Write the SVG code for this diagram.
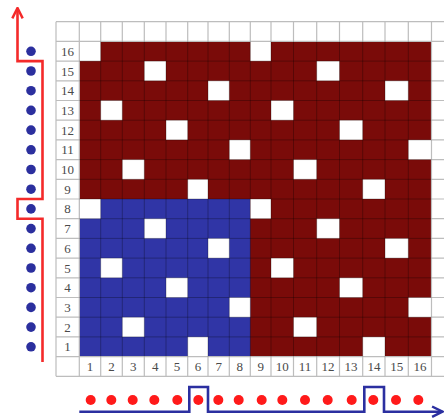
<svg xmlns="http://www.w3.org/2000/svg" width="444" height="418" viewBox="0 0 444 418">
<style>
.bg{fill:#ffffff}
.red{fill:#7a0b09}
.blue{fill:#3035a6}
.w{fill:#ffffff}
.gl{stroke:#bdbdbd;stroke-width:1.2;fill:none}
.dl{stroke:#000;stroke-opacity:0.28;stroke-width:1;fill:none}
.lbl{font-family:"Liberation Serif","Times New Roman",serif;font-size:13px;fill:#4a4a4a;text-anchor:middle}
.bdot{fill:#2b2f9e}
.rdot{fill:#ff1a1a}
.rline{fill:none;stroke:#f42a2a;stroke-width:2.6}
.bline{fill:none;stroke:#2b2fa0;stroke-width:2.6}
</style>
<defs>
<marker id="arrR" viewBox="0 0 10 10" refX="9" refY="5" markerWidth="13" markerHeight="13" markerUnits="userSpaceOnUse" orient="auto">
<path d="M1,1 L9,5 L1,9" fill="none" stroke="#f42a2a" stroke-width="1.9"/>
</marker>
<marker id="arrB" viewBox="0 0 10 10" refX="9" refY="5" markerWidth="13" markerHeight="13" markerUnits="userSpaceOnUse" orient="auto">
<path d="M1,1 L9,5 L1,9" fill="none" stroke="#2b2fa0" stroke-width="1.9"/>
</marker>
</defs>
<rect class="bg" x="0" y="0" width="444" height="418"/>

<g id="grid">
<rect class="red" x="79.3" y="41.4" width="352.2" height="315.2"/>
<rect class="blue" x="79.3" y="199" width="171" height="157.6"/>
<g id="white-cells">
<rect class="w" x="79.3" y="41.4" width="21.4" height="19.7"/>
<rect class="w" x="250.3" y="41.4" width="20.7" height="19.7"/>
<rect class="w" x="144.3" y="61.1" width="21.7" height="19.7"/>
<rect class="w" x="316.7" y="61.1" width="22.8" height="19.7"/>
<rect class="w" x="208" y="80.8" width="21.3" height="19.7"/>
<rect class="w" x="385" y="80.8" width="23.3" height="19.7"/>
<rect class="w" x="100.7" y="100.5" width="21.6" height="19.7"/>
<rect class="w" x="271" y="100.5" width="22.5" height="19.7"/>
<rect class="w" x="166" y="120.2" width="21.7" height="19.7"/>
<rect class="w" x="339.5" y="120.2" width="23.2" height="19.7"/>
<rect class="w" x="229.3" y="139.9" width="21" height="19.7"/>
<rect class="w" x="408.3" y="139.9" width="23.2" height="19.7"/>
<rect class="w" x="122.3" y="159.6" width="22" height="19.7"/>
<rect class="w" x="293.5" y="159.6" width="23.2" height="19.7"/>
<rect class="w" x="187.7" y="179.3" width="20.3" height="19.7"/>
<rect class="w" x="362.7" y="179.3" width="22.3" height="19.7"/>
<rect class="w" x="79.3" y="199" width="21.4" height="19.7"/>
<rect class="w" x="250.3" y="199" width="20.7" height="19.7"/>
<rect class="w" x="144.3" y="218.7" width="21.7" height="19.7"/>
<rect class="w" x="316.7" y="218.7" width="22.8" height="19.7"/>
<rect class="w" x="208" y="238.4" width="21.3" height="19.7"/>
<rect class="w" x="385" y="238.4" width="23.3" height="19.7"/>
<rect class="w" x="100.7" y="258.1" width="21.6" height="19.7"/>
<rect class="w" x="271" y="258.1" width="22.5" height="19.7"/>
<rect class="w" x="166" y="277.8" width="21.7" height="19.7"/>
<rect class="w" x="339.5" y="277.8" width="23.2" height="19.7"/>
<rect class="w" x="229.3" y="297.5" width="21" height="19.7"/>
<rect class="w" x="408.3" y="297.5" width="23.2" height="19.7"/>
<rect class="w" x="122.3" y="317.2" width="22" height="19.7"/>
<rect class="w" x="293.5" y="317.2" width="23.2" height="19.7"/>
<rect class="w" x="187.7" y="336.9" width="20.3" height="19.7"/>
<rect class="w" x="362.7" y="336.9" width="22.3" height="19.7"/>
</g>
<path class="gl" d="M56,21.7V376.3M79.3,21.7V41.4M100.7,21.7V41.4M122.3,21.7V41.4M144.3,21.7V41.4M166,21.7V41.4M187.7,21.7V41.4M208,21.7V41.4M229.3,21.7V41.4M250.3,21.7V41.4M271,21.7V41.4M293.5,21.7V41.4M316.7,21.7V41.4M339.5,21.7V41.4M362.7,21.7V41.4M385,21.7V41.4M408.3,21.7V41.4M431.5,21.7V376.3M79.3,356.6V376.3M100.7,356.6V376.3M122.3,356.6V376.3M144.3,356.6V376.3M166,356.6V376.3M187.7,356.6V376.3M208,356.6V376.3M229.3,356.6V376.3M250.3,356.6V376.3M271,356.6V376.3M293.5,356.6V376.3M316.7,356.6V376.3M339.5,356.6V376.3M362.7,356.6V376.3M385,356.6V376.3M408.3,356.6V376.3M79.3,41.4V356.6"/>
<path class="gl" d="M56,21.7H444M56,41.4H444M56,376.3H444M56,61.1H79.3M56,80.8H79.3M56,100.5H79.3M56,120.2H79.3M56,139.9H79.3M56,159.6H79.3M56,179.3H79.3M56,199H79.3M56,218.7H79.3M56,238.4H79.3M56,258.1H79.3M56,277.8H79.3M56,297.5H79.3M56,317.2H79.3M56,336.9H79.3M56,356.6H444M431.5,61.1H444M431.5,80.8H444M431.5,100.5H444M431.5,120.2H444M431.5,139.9H444M431.5,159.6H444M431.5,179.3H444M431.5,199H444M431.5,218.7H444M431.5,238.4H444M431.5,258.1H444M431.5,277.8H444M431.5,297.5H444M431.5,317.2H444M431.5,336.9H444"/>
<path class="dl" d="M100.7,41.4V356.6M122.3,41.4V356.6M144.3,41.4V356.6M166,41.4V356.6M187.7,41.4V356.6M208,41.4V356.6M229.3,41.4V356.6M250.3,41.4V356.6M271,41.4V356.6M293.5,41.4V356.6M316.7,41.4V356.6M339.5,41.4V356.6M362.7,41.4V356.6M385,41.4V356.6M408.3,41.4V356.6M79.3,61.1H431.5M79.3,80.8H431.5M79.3,100.5H431.5M79.3,120.2H431.5M79.3,139.9H431.5M79.3,159.6H431.5M79.3,179.3H431.5M79.3,199H431.5M79.3,218.7H431.5M79.3,238.4H431.5M79.3,258.1H431.5M79.3,277.8H431.5M79.3,297.5H431.5M79.3,317.2H431.5M79.3,336.9H431.5"/>
</g>

<g id="row-labels" class="lbl">
<text x="67.6" y="55.8">16</text>
<text x="67.6" y="75.5">15</text>
<text x="67.6" y="95.2">14</text>
<text x="67.6" y="114.9">13</text>
<text x="67.6" y="134.6">12</text>
<text x="67.6" y="154.3">11</text>
<text x="67.6" y="174">10</text>
<text x="67.6" y="193.7">9</text>
<text x="67.6" y="213.4">8</text>
<text x="67.6" y="233.1">7</text>
<text x="67.6" y="252.8">6</text>
<text x="67.6" y="272.5">5</text>
<text x="67.6" y="292.2">4</text>
<text x="67.6" y="311.9">3</text>
<text x="67.6" y="331.6">2</text>
<text x="67.6" y="351.3">1</text>
</g>
<g id="col-labels" class="lbl">
<text x="90" y="371">1</text>
<text x="111.5" y="371">2</text>
<text x="133.3" y="371">3</text>
<text x="155.2" y="371">4</text>
<text x="176.9" y="371">5</text>
<text x="197.9" y="371">6</text>
<text x="218.7" y="371">7</text>
<text x="239.8" y="371">8</text>
<text x="260.7" y="371">9</text>
<text x="282.3" y="371">10</text>
<text x="305.1" y="371">11</text>
<text x="328.1" y="371">12</text>
<text x="351.1" y="371">13</text>
<text x="373.9" y="371">14</text>
<text x="396.7" y="371">15</text>
<text x="419.9" y="371">16</text>
</g>

<g id="left-dots" class="bdot">
<circle cx="31" cy="51.3" r="4.8"/>
<circle cx="31" cy="71" r="4.8"/>
<circle cx="31" cy="90.7" r="4.8"/>
<circle cx="31" cy="110.4" r="4.8"/>
<circle cx="31" cy="130.1" r="4.8"/>
<circle cx="31" cy="149.8" r="4.8"/>
<circle cx="31" cy="169.5" r="4.8"/>
<circle cx="31" cy="189.2" r="4.8"/>
<circle cx="31" cy="208.9" r="4.8"/>
<circle cx="31" cy="228.6" r="4.8"/>
<circle cx="31" cy="248.3" r="4.8"/>
<circle cx="31" cy="268" r="4.8"/>
<circle cx="31" cy="287.7" r="4.8"/>
<circle cx="31" cy="307.4" r="4.8"/>
<circle cx="31" cy="327.1" r="4.8"/>
<circle cx="31" cy="346.8" r="4.8"/>
</g>
<g id="bottom-dots" class="rdot">
<circle cx="90.7" cy="400" r="5"/>
<circle cx="111.3" cy="400" r="5"/>
<circle cx="132.7" cy="400" r="5"/>
<circle cx="154.3" cy="400" r="5"/>
<circle cx="177.3" cy="400" r="5"/>
<circle cx="198.3" cy="400" r="5"/>
<circle cx="218.3" cy="400" r="5"/>
<circle cx="238.7" cy="400" r="5"/>
<circle cx="261.7" cy="400" r="5"/>
<circle cx="282.3" cy="400" r="5"/>
<circle cx="305" cy="400" r="5"/>
<circle cx="327.7" cy="400" r="5"/>
<circle cx="351.7" cy="400" r="5"/>
<circle cx="373.3" cy="400" r="5"/>
<circle cx="396" cy="400" r="5"/>
<circle cx="418.3" cy="400" r="5"/>
</g>

<g id="connectors">
<path class="rline" d="M42.5,362V218.7H17.5V199H42.5V61.1H17.5V8" marker-end="url(#arrR)"/>
<path class="bline" d="M79.3,411.7H189.3V387H208V411.7H364.3V387H384V411.7H442.5" marker-end="url(#arrB)"/>
</g>
</svg>
